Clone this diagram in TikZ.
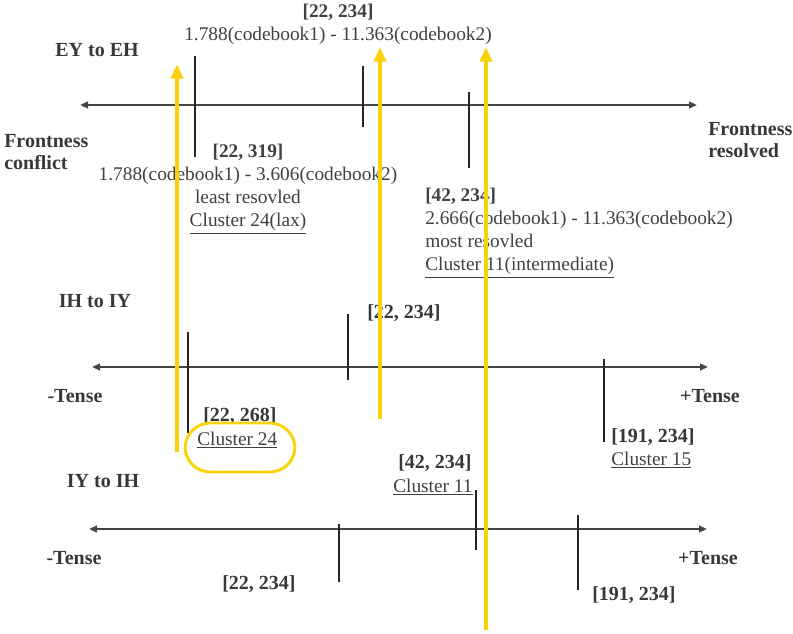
\documentclass[tikz,border=0pt]{standalone}
\usepackage{fontspec}
\setmainfont{Liberation Serif}
\usetikzlibrary{arrows.meta}

\definecolor{axisgrey}{HTML}{444444}
\definecolor{txtgrey}{HTML}{404040}
\definecolor{hlyellow}{HTML}{FAD20A}

\tikzset{
  axis/.style={draw=axisgrey, line width=1.5pt, {Triangle[length=6pt,width=5pt]}-{Triangle[length=6pt,width=5pt]}},
  tick/.style={draw=black!85, line width=1.1pt},
  hl/.style={draw=hlyellow, line width=3pt, -{Triangle[length=11pt,width=9pt]}},
  lbl/.style={text=txtgrey, inner sep=0pt, font=\fontsize{14.5}{17.25}\selectfont},
  head/.style={lbl, text=black!78, font=\fontsize{15}{17}\selectfont\bfseries},
}

\begin{document}
\begin{tikzpicture}[x=0.75pt, y=-0.75pt]
  \useasboundingbox (0,0) rectangle (793,633);

  % EY to EH
  \node[head] (ey) at (97,50) {EY to EH};
  \draw[axis] (80,105) -- (697,105);
  \draw[tick] (195,56) -- (195,157);
  \draw[tick] (363,66) -- (363,127);
  \draw[tick] (469,92) -- (469,168);
  \node[head, align=left, anchor=west] (conf) at (4,152) {Frontness\\conflict};
  \node[head, align=left, anchor=west] (res) at (708,140) {Frontness\\resolved};
  \node[lbl, align=center] (top) at (338,24)
    {{\bfseries [22, 234]}\\1.788(codebook1) - 11.363(codebook2)};
  \node[lbl, align=center] (lax) at (248,189)
    {{\bfseries [22, 319]}\\1.788(codebook1) - 3.606(codebook2)\\least resovled\\\underline{Cluster 24(lax)}};
  \node[lbl, align=left, anchor=west] (inter) at (425,233)
    {{\bfseries [42, 234]}\\2.666(codebook1) - 11.363(codebook2)\\most resovled\\\underline{Cluster 11(intermediate)}};

  % IH to IY
  \node[head] (ih) at (95,301) {IH to IY};
  \draw[axis] (92,367) -- (708,367);
  \draw[tick] (188,332) -- (188,433);
  \draw[tick] (348,314) -- (348,380);
  \draw[tick] (604,359) -- (604,442);
  \node[head] (m1) at (75,396) {-Tense};
  \node[head] (p1) at (710,396) {+Tense};
  \node[head, anchor=west] (a1) at (367,313) {[22, 234]};
  \node[head, anchor=west] (a2) at (203,416) {[22, 268]};
  \node[lbl, anchor=west] (c24) at (197,440) {\underline{Cluster 24}};
  \node[head, anchor=west] (a3) at (611,437) {[191, 234]};
  \node[lbl, anchor=west] (c15) at (611,460) {\underline{Cluster 15}};
  \draw[hlyellow, line width=2.2pt, rounded corners=19pt] (185,423) rectangle (295,472);

  % IY to IH
  \node[head] (iy) at (103,481) {IY to IH};
  \draw[axis] (89,529) -- (707,529);
  \draw[tick] (339,524) -- (339,582);
  \draw[tick] (476,490) -- (476,550);
  \draw[tick] (578,515) -- (578,590);
  \node[head] (m2) at (74,558) {-Tense};
  \node[head] (p2) at (708,558) {+Tense};
  \node[head, anchor=west] (b1) at (398,463) {[42, 234]};
  \node[lbl, anchor=west] (c11) at (393,487) {\underline{Cluster 11}};
  \node[head, anchor=west] (b2) at (222,584) {[22, 234]};
  \node[head, anchor=west] (b3) at (592,595) {[191, 234]};

  % highlight arrows
  \draw[hl] (177,452) -- (177,64);
  \draw[hl] (380,419) -- (380,47);
  \draw[hl] (486,630) -- (486,47);
\end{tikzpicture}
\end{document}
